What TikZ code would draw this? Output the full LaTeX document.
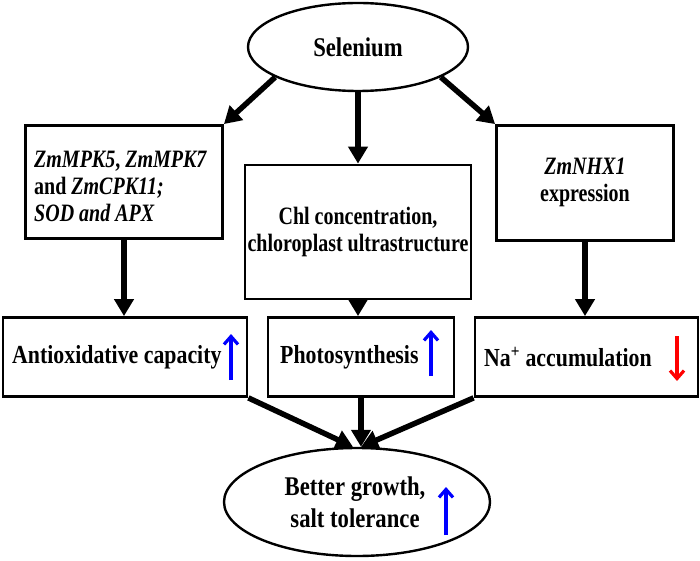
\documentclass[tikz,border=0pt]{standalone}
\usepackage{fontspec}
\setmainfont{Liberation Serif}[FakeStretch=0.8]
\newfontfamily\widefont{Liberation Serif}[FakeStretch=0.84]
\usetikzlibrary{shapes.geometric,arrows.meta}
\begin{document}
\begin{tikzpicture}[x=1pt,y=-1pt,
  box/.style={draw,line width=2.8pt,rectangle,inner sep=0pt},
  oval/.style={draw,line width=2.4pt,ellipse,inner sep=0pt},
  txt/.style={font=\fontsize{25}{27}\selectfont\bfseries,align=center,inner sep=0pt},
  rowtxt/.style={font=\widefont\fontsize{26}{27}\selectfont\bfseries,align=center,inner sep=0pt},
  ovtxt/.style={font=\widefont\fontsize{27}{32}\selectfont\bfseries,align=center,inner sep=0pt},
  flow/.style={line width=5.5pt,-{Triangle[length=17pt,width=19pt]}},
  upar/.style={line width=3.2pt,-{Straight Barb[length=8pt,width=14pt]},blue},
  downar/.style={line width=3.2pt,-{Straight Barb[length=8pt,width=14pt]},red}]
\useasboundingbox (0,0) rectangle (700,561);
% nodes
\node[oval,minimum width=220,minimum height=88] (sel) at (358,47) {};
\node[ovtxt] (selt) at (358,47) {Selenium};
\node[box,minimum width=197,minimum height=113] (b1) at (124,182) {};
\node[box,minimum width=226,minimum height=134] (b2) at (358,232) {};
\node[box,minimum width=177,minimum height=115] (b3) at (585,183) {};
\node[box,minimum width=244,minimum height=79] (c1) at (125,357) {};
\node[box,minimum width=186,minimum height=79] (c2) at (361,357) {};
\node[box,minimum width=223,minimum height=79] (c3) at (586.5,357) {};
\node[oval,minimum width=266,minimum height=108] (out) at (357,502) {};
% texts
\node[txt,align=left,anchor=west] (b1t) at (34,186) {\textit{ZmMPK5}, \textit{ZmMPK7}\\and \textit{ZmCPK11;}\\\textit{SOD and APX}};
\node[txt] (b2t) at (358,232) {Chl concentration,\\chloroplast ultrastructure};
\node[txt] (b3t) at (585,182) {\textit{ZmNHX1}\\expression};
\node[rowtxt,anchor=west] (c1t) at (12,357) {Antioxidative capacity};
\node[rowtxt,anchor=west] (c2t) at (280,357) {Photosynthesis};
\node[rowtxt,anchor=west] (c3t) at (484,357) {Na\textsuperscript{+} accumulation};
\node[ovtxt] (outt) at (355,502) {Better growth,\\salt tolerance};
% indicator arrows
\coordinate (u1a) at (231,380); \coordinate (u1b) at (231,334);
\coordinate (u2a) at (431,376); \coordinate (u2b) at (431,330);
\coordinate (d3a) at (677,336); \coordinate (d3b) at (677,381);
\coordinate (u4a) at (446,535); \coordinate (u4b) at (446,487);
\draw[upar] (u1a) -- (u1b);
\draw[upar] (u2a) -- (u2b);
\draw[downar] (d3a) -- (d3b);
\draw[upar] (u4a) -- (u4b);
% flow arrows
\draw[flow] (sel.-160) -- (b1.north east);
\draw[flow] (sel.south) -- (sel.south |- b2.north);
\draw[flow] (sel.-20) -- (b3.north west);
\draw[flow] (b1.south) -- (b1.south |- c1.north);
\draw[flow] (b2.south) -- (b2.south |- c2.north);
\draw[flow] (b3.south) -- (b3.south |- c3.north);
\draw[flow] (c1.south east) -- ([xshift=-4]out.north);
\draw[flow] (c2.south) -- (c2.south |- out.north);
\draw[flow] (c3.south west) -- ([xshift=4]out.north);
\end{tikzpicture}
\end{document}
